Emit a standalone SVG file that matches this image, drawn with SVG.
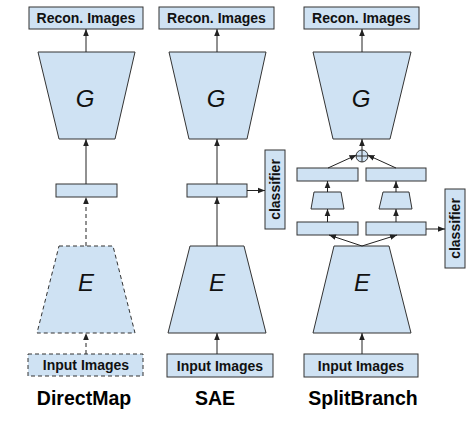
<svg xmlns="http://www.w3.org/2000/svg" width="474" height="421" viewBox="0 0 474 421">
<defs>
<marker id="ah" markerUnits="userSpaceOnUse" markerWidth="8" markerHeight="8" viewBox="0 0 8 8" refX="7" refY="4" orient="auto">
<path d="M0,1.2 L7,4 L0,6.8 Z" fill="#222"/>
</marker>
<style>
.n{fill:#cfe2f3;stroke:#333;stroke-width:1}
.d{stroke-dasharray:4,3}
.c{stroke:#222;stroke-width:1;fill:none;marker-end:url(#ah)}
.t{font-family:"Liberation Sans",Arial,sans-serif;font-weight:bold;font-size:14px;fill:#111;text-anchor:middle}
.L{font-family:"Liberation Sans",Arial,sans-serif;font-style:italic;font-size:24px;fill:#111;text-anchor:middle}
.T{font-family:"Liberation Sans",Arial,sans-serif;font-weight:bold;font-size:19.5px;fill:#000;text-anchor:middle}
</style>
</defs>
<rect width="474" height="421" fill="#fff"/>

<!-- DirectMap -->
<g id="dm-recon"><rect class="n" x="29" y="7" width="114" height="22"/><text class="t" x="86" y="23">Recon. Images</text></g>
<g id="dm-G"><polygon class="n" points="38,52 135,52 115,139 59,139"/><text class="L" x="85" y="107">G</text></g>
<g id="dm-z"><rect class="n" x="56" y="184" width="61" height="13"/></g>
<g id="dm-E"><polygon class="n d" points="59,246 113,246 135,333 37,333"/><text class="L" x="86" y="291">E</text></g>
<g id="dm-input"><rect class="n d" x="28" y="354" width="115" height="22"/><text class="t" x="86" y="370">Input Images</text></g>
<g id="dm-title"><text class="T" x="84" y="405">DirectMap</text></g>

<!-- SAE -->
<g id="sae-recon"><rect class="n" x="159" y="7" width="115" height="22"/><text class="t" x="216.5" y="23">Recon. Images</text></g>
<g id="sae-G"><polygon class="n" points="169,52 266,52 247,139 189,139"/><text class="L" x="216" y="107">G</text></g>
<g id="sae-z"><rect class="n" x="187" y="184" width="60" height="13"/></g>
<g id="sae-cls"><rect class="n" x="265" y="150" width="20" height="79"/><text class="t" transform="translate(280,189.5) rotate(-90)">classifier</text></g>
<g id="sae-E"><polygon class="n" points="190,246 244,246 266,333 168,333"/><text class="L" x="217" y="291">E</text></g>
<g id="sae-input"><rect class="n" x="167" y="354" width="106" height="23"/><text class="t" x="220" y="371">Input Images</text></g>
<g id="sae-title"><text class="T" x="215" y="405">SAE</text></g>

<!-- SplitBranch -->
<g id="sb-recon"><rect class="n" x="304" y="7" width="115" height="22"/><text class="t" x="361.5" y="23">Recon. Images</text></g>
<g id="sb-G"><polygon class="n" points="313,52 411,52 390,139 333,139"/><text class="L" x="361" y="107">G</text></g>
<g id="sb-sum"><circle class="n" cx="362" cy="156" r="6"/><path d="M356,156 H368 M362,150 V162" stroke="#333" stroke-width="1"/></g>
<g id="sb-u1"><rect class="n" x="297" y="168" width="61" height="13"/></g>
<g id="sb-u2"><rect class="n" x="366" y="168" width="60" height="13"/></g>
<g id="sb-t1"><polygon class="n" points="314,192 341,192 344,209 311,209"/></g>
<g id="sb-t2"><polygon class="n" points="383,192 409,192 412,209 379,209"/></g>
<g id="sb-l1"><rect class="n" x="297" y="222" width="61" height="13"/></g>
<g id="sb-l2"><rect class="n" x="366" y="222" width="60" height="13"/></g>
<g id="sb-cls"><rect class="n" x="445" y="189" width="20" height="79"/><text class="t" transform="translate(460,228.5) rotate(-90)">classifier</text></g>
<g id="sb-E"><polygon class="n" points="334,246 389,246 411,333 313,333"/><text class="L" x="362" y="291">E</text></g>
<g id="sb-input"><rect class="n" x="304" y="354" width="114" height="23"/><text class="t" x="361" y="371">Input Images</text></g>
<g id="sb-title"><text class="T" x="363" y="405">SplitBranch</text></g>

<g id="connectors">
<line class="c" x1="86" y1="52" x2="86" y2="29"/>
<line class="c" x1="86" y1="184" x2="86" y2="139"/>
<line class="c d" x1="86" y1="246" x2="86" y2="197"/>
<line class="c d" x1="86" y1="354" x2="86" y2="333"/>

<line class="c" x1="217" y1="52" x2="217" y2="29"/>
<line class="c" x1="217" y1="184" x2="217" y2="139"/>
<line class="c" x1="217" y1="246" x2="217" y2="197"/>
<line class="c" x1="217" y1="354" x2="217" y2="333"/>
<line class="c" x1="247" y1="190.5" x2="265" y2="190.5"/>

<line class="c" x1="362" y1="52" x2="362" y2="29"/>
<line class="c" x1="362" y1="150" x2="362" y2="139"/>
<line class="c" x1="328" y1="168" x2="356.5" y2="155"/>
<line class="c" x1="396" y1="168" x2="367.5" y2="155"/>
<line class="c" x1="327.5" y1="192" x2="327.5" y2="181"/>
<line class="c" x1="396" y1="192" x2="396" y2="181"/>
<line class="c" x1="327.5" y1="222" x2="327.5" y2="209"/>
<line class="c" x1="396" y1="222" x2="396" y2="209"/>
<line class="c" x1="362" y1="246" x2="329" y2="235"/>
<line class="c" x1="362" y1="246" x2="397" y2="235"/>
<line class="c" x1="362" y1="354" x2="362" y2="333"/>
<line class="c" x1="426" y1="229" x2="445" y2="229"/>
</g>
</svg>
